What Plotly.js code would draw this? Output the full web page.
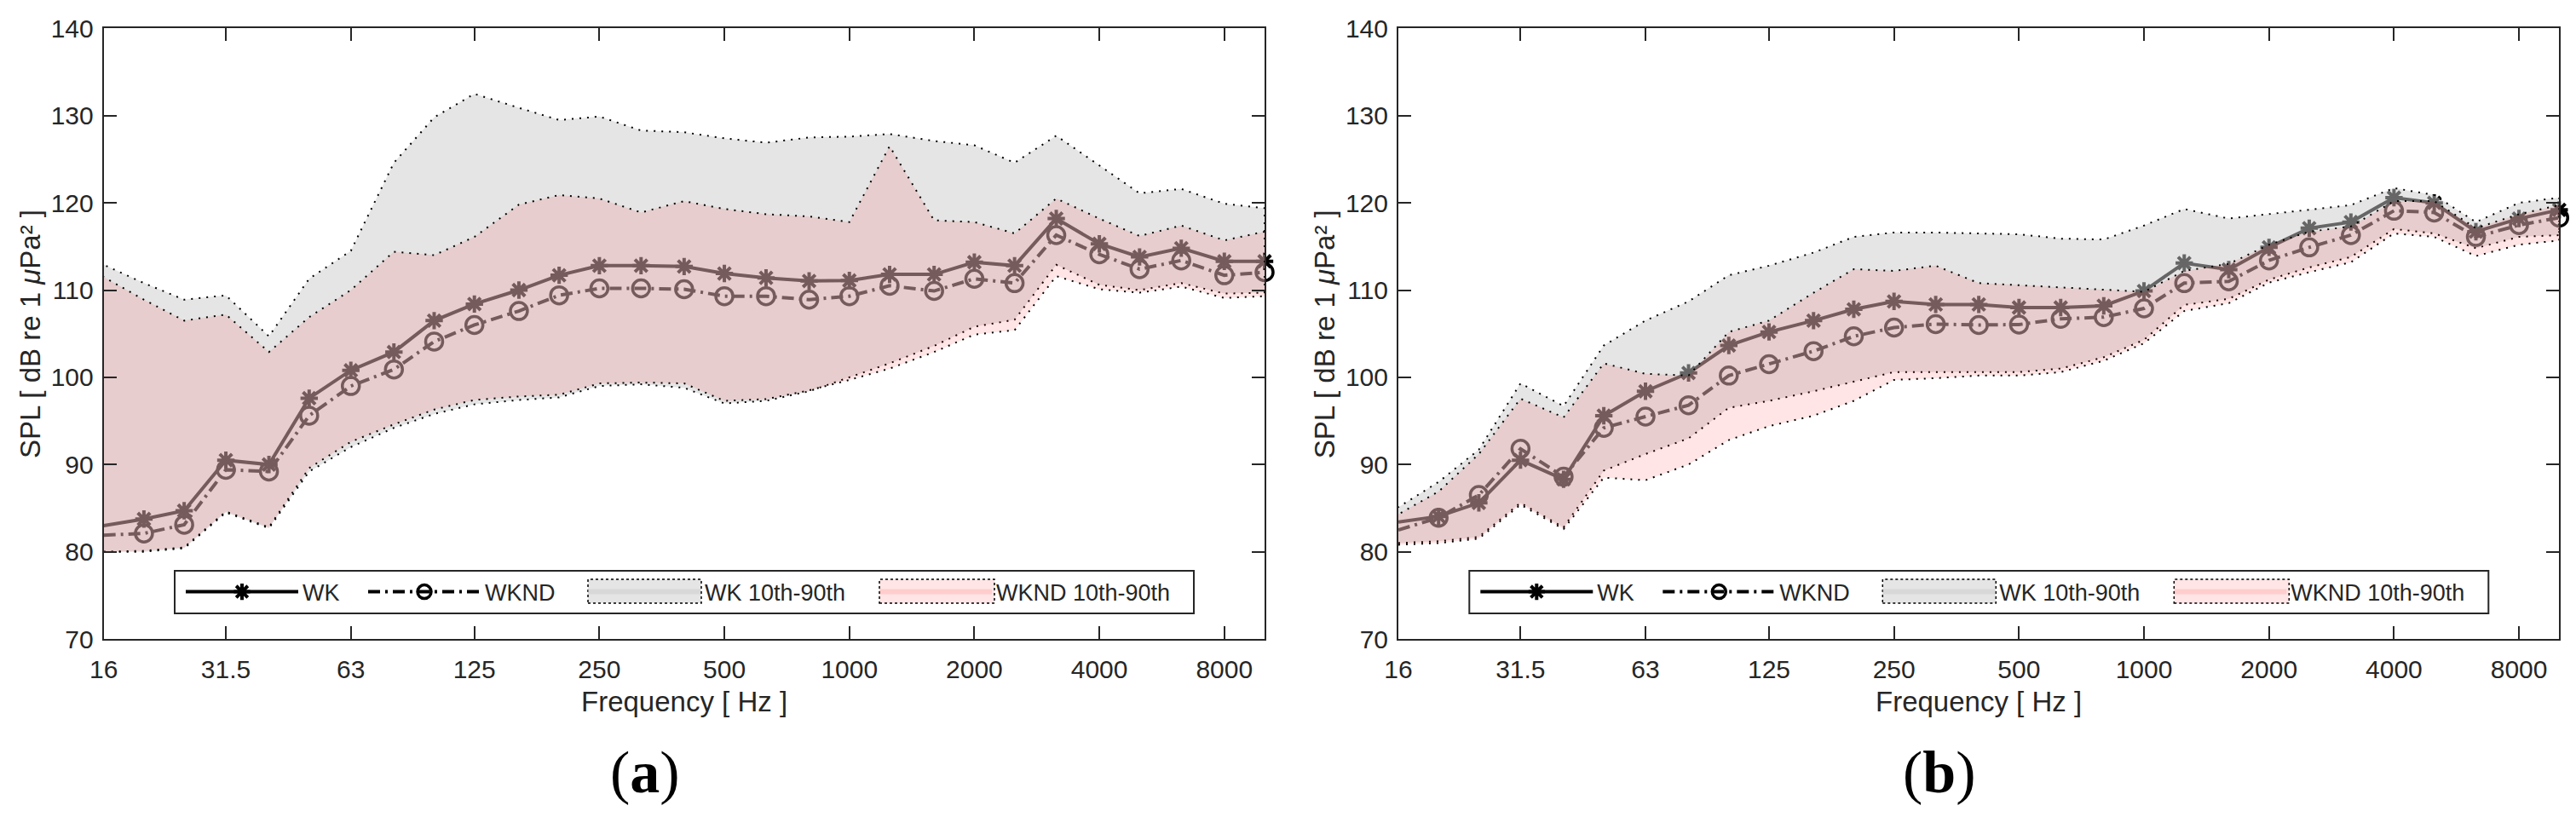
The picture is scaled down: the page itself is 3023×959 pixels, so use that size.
<!DOCTYPE html>
<html><head><meta charset="utf-8">
<script src="https://cdn.plot.ly/plotly-3.0.1.min.js"></script>
<style>html,body{margin:0;padding:0;background:#fff}#chart{width:3023px;height:959px}</style>
</head><body><div id="chart"></div>
<script>
// 1/3-octave band centre frequencies (Hz)
const FREQ = [16,20,25,31.5,40,50,63,80,100,125,160,200,250,315,400,500,630,800,1000,1250,1600,2000,2500,3150,4000,5000,6300,8000,10000];
const X_TICK_VALS = [16,31.5,63,125,250,500,1000,2000,4000,8000];
const X_TICK_TEXT = ['16','31.5','63','125','250','500','1000','2000','4000','8000'];
const Y_TICK_VALS = [70,80,90,100,110,120,130,140];
const SERIES_NAMES = ['WK', 'WKND', 'WK 10th-90th', 'WKND 10th-90th'];

// Panel (a)
const A_WK        = [83.0,83.75,84.7,90.5,90.0,97.6,100.8,102.9,106.5,108.4,110.0,111.7,112.8,112.8,112.7,111.9,111.4,111.05,111.1,111.8,111.8,113.2,112.8,118.2,115.3,113.8,114.8,113.3,113.3];
const A_WKND      = [81.9,82.1,83.1,89.4,89.2,95.6,99.0,100.9,104.1,106.0,107.6,109.4,110.2,110.2,110.1,109.3,109.3,108.9,109.3,110.5,109.9,111.3,110.8,116.3,114.1,112.4,113.4,111.7,112.05];
const A_WK_P90    = [112.9,110.8,108.9,109.4,104.7,111.3,114.5,124.6,129.8,132.5,130.9,129.5,129.9,128.3,128.1,127.4,126.9,127.5,127.6,127.9,127.1,126.6,124.6,127.7,124.3,121.1,121.6,119.9,119.4];
const A_WK_P10    = [80.0,80.0,80.4,84.5,82.7,89.2,92.0,94.2,95.8,96.9,97.4,97.7,99.0,99.2,98.8,97.0,97.3,98.4,100.0,101.6,103.6,105.8,106.6,112.9,110.6,110.0,110.8,109.6,109.7];
const A_WKND_P90  = [111.5,108.9,106.5,107.2,102.9,106.9,110.0,114.4,114.0,116.1,119.8,120.9,120.5,118.9,120.2,119.3,118.7,118.45,117.8,126.5,118.0,117.8,116.5,120.5,118.2,116.2,117.4,115.7,116.7];
const A_WKND_P10  = [80.0,80.1,80.5,84.6,82.8,89.6,92.6,94.6,96.3,97.4,97.8,98.0,99.3,99.4,99.3,97.3,97.5,98.5,99.7,101.0,102.9,104.9,105.4,111.6,110.1,109.7,110.4,109.1,109.3];

// Panel (b)
const B_WK        = [83.4,84.05,85.6,90.5,88.3,95.6,98.4,100.5,103.65,105.2,106.5,107.8,108.7,108.35,108.35,108.0,108.0,108.2,109.9,113.1,112.35,114.9,117.1,117.8,120.6,120.0,116.7,118.2,119.2];
const B_WKND      = [82.5,83.9,86.5,91.8,88.6,94.2,95.5,96.8,100.2,101.5,103.0,104.7,105.7,106.1,106.0,106.05,106.7,106.9,107.9,110.8,111.0,113.4,114.9,116.3,119.1,118.9,116.1,117.45,118.3];
const B_WK_P90    = [85.1,88.0,91.7,99.3,96.7,103.65,106.5,108.7,111.7,112.8,114.3,116.1,116.6,116.6,116.5,116.4,115.9,115.8,117.4,119.3,118.2,118.7,119.2,119.75,121.7,120.9,117.8,120.0,120.6];
const B_WK_P10    = [81.0,81.2,81.7,85.6,82.8,89.3,91.2,93.0,96.5,97.3,98.4,99.5,100.6,100.6,100.6,100.6,101.0,102.3,104.3,108.3,109.0,111.2,112.6,113.8,117.0,116.5,114.8,116.1,116.3];
const B_WKND_P90  = [84.3,86.9,91.2,97.55,95.4,101.6,100.4,100.2,105.2,106.5,109.7,112.4,112.2,112.8,110.8,110.6,110.3,110.05,109.8,112.2,113.0,115.2,116.7,117.3,120.2,120.2,117.1,118.7,119.75];
const B_WKND_P10  = [80.8,81.0,81.5,85.4,82.6,88.5,88.2,90.0,92.8,94.4,95.6,97.3,99.7,99.9,100.2,100.2,100.6,101.9,103.9,107.6,108.5,110.85,112.05,113.2,116.5,116.1,113.9,115.2,115.7];

const INK = '#262626';
const FONT = '"Liberation Sans", Arial, Helvetica, sans-serif';
const GREY_FILL = 'rgba(204,204,204,0.5)';
const PINK_FILL = 'rgba(255,0,0,0.1)';
const DOTS = '2px,7px';

function band(lower, upper) {
  return {x: FREQ.concat(FREQ.slice().reverse()), y: lower.concat(upper.slice().reverse())};
}

// legs: four legend ids, one per entry
function panel(xa, ya, legs, wk, wknd, wkLo, wkHi, ndLo, ndHi) {
  const bWK = band(wkLo, wkHi), bND = band(ndLo, ndHi);
  return [
    {x: FREQ, y: wk, xaxis: xa, yaxis: ya, legend: legs[0], name: SERIES_NAMES[0], type: 'scatter', mode: 'lines+markers',
     cliponaxis: false,
     line: {color: '#000', width: 4},
     marker: {symbol: 'asterisk-open', size: 17, color: '#000', line: {color: '#000', width: 4}}},
    {x: FREQ, y: wknd, xaxis: xa, yaxis: ya, legend: legs[1], name: SERIES_NAMES[1], type: 'scatter', mode: 'lines+markers',
     cliponaxis: false,
     line: {color: '#000', width: 4, dash: '14px,6px,3px,6px'},
     marker: {symbol: 'circle-open', size: 20, color: '#000', line: {color: '#000', width: 3.5}}},
    // WK 10th-90th band: fill, then dotted outline
    {x: bWK.x, y: bWK.y, xaxis: xa, yaxis: ya, legend: legs[2], name: SERIES_NAMES[2], type: 'scatter', mode: 'none',
     fill: 'toself', fillcolor: GREY_FILL, hoverinfo: 'skip'},
    {x: bWK.x, y: bWK.y, xaxis: xa, yaxis: ya, showlegend: false, type: 'scatter', mode: 'lines', hoverinfo: 'skip',
     line: {color: '#000', width: 2, dash: DOTS}},
    // WKND 10th-90th band
    {x: bND.x, y: bND.y, xaxis: xa, yaxis: ya, legend: legs[3], name: SERIES_NAMES[3], type: 'scatter', mode: 'none',
     fill: 'toself', fillcolor: PINK_FILL, hoverinfo: 'skip'},
    {x: bND.x, y: bND.y, xaxis: xa, yaxis: ya, showlegend: false, type: 'scatter', mode: 'lines', hoverinfo: 'skip',
     line: {color: '#000', width: 2, dash: DOTS}}
  ];
}

const data = [].concat(
  panel('x', 'y', ['legend', 'legend2', 'legend3', 'legend4'], A_WK, A_WKND, A_WK_P10, A_WK_P90, A_WKND_P10, A_WKND_P90),
  panel('x2', 'y2', ['legend5', 'legend6', 'legend7', 'legend8'], B_WK, B_WKND, B_WK_P10, B_WK_P90, B_WKND_P10, B_WKND_P90)
);

const W = 3023, H = 959;
const px = v => v / W, py = v => 1 - v / H;

function xAxis(dom, anchor) {
  return {
    type: 'log', domain: dom, anchor: anchor,
    range: [Math.log10(16), Math.log10(10000)],
    tickvals: X_TICK_VALS, ticktext: X_TICK_TEXT,
    ticks: 'inside', ticklen: 15, tickwidth: 2, tickcolor: INK,
    showline: true, linecolor: INK, linewidth: 2, mirror: 'ticks',
    showgrid: false, zeroline: false, automargin: false,
    tickfont: {family: FONT, size: 30, color: INK},
    ticklabelstandoff: 8
  };
}
function yAxis(anchor) {
  return {
    domain: [py(750), py(33.4)], anchor: anchor,
    range: [70, 140], tickvals: Y_TICK_VALS,
    ticks: 'inside', ticklen: 15, tickwidth: 2, tickcolor: INK,
    showline: true, linecolor: INK, linewidth: 2, mirror: 'ticks',
    showgrid: false, zeroline: false, automargin: false,
    tickfont: {family: FONT, size: 30, color: INK},
    ticklabelstandoff: 4
  };
}
// legend box: left panel 205..1401 x 670..720; right panel shifted by OFF
const OFF = 1519.3;
const LEG_SYM_X = [218, 432, 690, 1032];   // left edge of each legend symbol
const LEG_MID_Y = 695;
function legendAt(symX) {
  return {
    orientation: 'h', x: px(symX - 5), y: py(LEG_MID_Y), xanchor: 'left', yanchor: 'middle',
    bgcolor: 'rgba(0,0,0,0)', borderwidth: 0,
    font: {family: FONT, size: 27, color: INK},
    itemwidth: 132, itemclick: false, itemdoubleclick: false
  };
}

const titleFont = {family: FONT, size: 33, color: INK};
const capFont = {family: '"Liberation Serif", "Times New Roman", serif', size: 70, color: '#000'};
function ann(text, x, y, font, angle) {
  return {text: text, x: px(x), y: py(y), xref: 'paper', yref: 'paper', showarrow: false,
          xanchor: 'center', yanchor: 'middle', font: font, textangle: angle || 0};
}
function rect(x0, x1, y0, y1, fill, line) {
  return {type: 'rect', xref: 'paper', yref: 'paper', layer: 'above',
          x0: px(x0), x1: px(x1), y0: py(y1), y1: py(y0), fillcolor: fill, line: line};
}
const yTitle = 'SPL [ dB re 1 <i>μ</i>Pa² ]';

const shapes = [];
[0, OFF].forEach(o => {
  shapes.push(rect(205 + o, 1401 + o, 670, 720, '#fff', {color: INK, width: 2}));
  shapes.push(rect(690 + o, 823 + o, 680, 708, GREY_FILL, {color: '#000', width: 1.5, dash: 'dot'}));
  shapes.push(rect(1032 + o, 1167 + o, 680, 708, PINK_FILL, {color: '#000', width: 1.5, dash: 'dot'}));
});

const layout = {
  width: W, height: H,
  margin: {l: 0, r: 0, t: 0, b: 0, pad: 0, autoexpand: false},
  paper_bgcolor: '#fff', plot_bgcolor: '#fff',
  showlegend: true,
  xaxis: xAxis([px(121.7), px(1484)], 'y'),
  yaxis: yAxis('x'),
  xaxis2: xAxis([px(121.7 + OFF), px(1484 + OFF)], 'y2'),
  yaxis2: yAxis('x2'),
  shapes: shapes,
  annotations: [
    ann(yTitle, 36, 392, titleFont, -90),
    ann('Frequency [ Hz ]', 803, 823, titleFont),
    ann('(<b>a</b>)', 757, 906, capFont),
    ann(yTitle, 36 + OFF, 392, titleFont, -90),
    ann('Frequency [ Hz ]', 803 + OFF, 823, titleFont),
    ann('(<b>b</b>)', 757 + OFF, 906, capFont)
  ]
};
['legend', 'legend2', 'legend3', 'legend4'].forEach((id, i) => { layout[id] = legendAt(LEG_SYM_X[i]); });
['legend5', 'legend6', 'legend7', 'legend8'].forEach((id, i) => { layout[id] = legendAt(LEG_SYM_X[i] + OFF); });

Plotly.newPlot('chart', data, layout, {staticPlot: true, displayModeBar: false});
</script>
</body></html>
